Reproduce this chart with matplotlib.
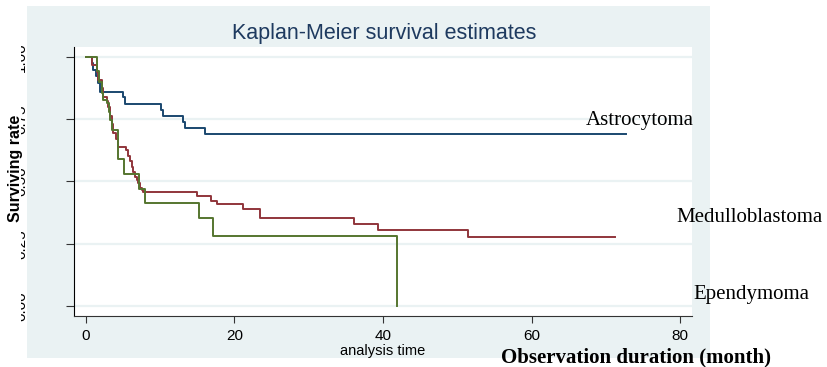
import matplotlib.pyplot as plt
import numpy as np
from matplotlib.patches import Rectangle
from matplotlib.transforms import Bbox, blended_transform_factory

# Kaplan-Meier step data (time in months, survival)
astro_t = [0, 0.77, 1.01, 1.35, 1.66, 1.95, 5.02, 5.24, 10.09, 10.32, 13.1, 13.32, 16.0, 72.7]
astro_s = [1, 0.976, 0.948, 0.924, 0.896, 0.858, 0.841, 0.811, 0.787, 0.763, 0.740, 0.716, 0.690, 0.690]

medullo_t = [0, 0.81, 1.44, 1.66, 2.11, 2.33, 2.79, 3.0, 3.23, 3.46, 3.67, 4.04, 4.31, 5.38, 5.69,
             5.92, 6.15, 6.37, 6.59, 6.82, 7.04, 7.27, 7.54, 7.71, 14.9, 16.9, 17.7, 21.2, 23.4,
             36.1, 39.3, 51.5, 71.2]
medullo_s = [1, 0.968, 0.940, 0.908, 0.874, 0.841, 0.823, 0.799, 0.763, 0.731, 0.695, 0.671, 0.640,
             0.627, 0.602, 0.582, 0.558, 0.538, 0.519, 0.506, 0.494, 0.474, 0.466, 0.459, 0.443,
             0.423, 0.408, 0.391, 0.354, 0.331, 0.304, 0.277, 0.277]

epend_t = [0, 1.44, 1.80, 2.15, 2.33, 2.78, 3.05, 3.31, 3.58, 4.3, 5.1, 7.15, 7.94, 15.25, 17.1, 41.95]
epend_s = [1, 0.945, 0.901, 0.854, 0.827, 0.814, 0.780, 0.747, 0.707, 0.589, 0.530, 0.469, 0.412,
           0.352, 0.282, 0.0]

grupos = ['Astrocytoma', 'Medulloblastoma', 'Ependymoma']
colores = ['#1a476f', '#90353b', '#55752f']
xticks = [0, 20, 40, 60, 80]
yticks = [0.0, 0.25, 0.5, 0.75, 1.0]
ytick_labels = ['0.00', '0.25', '0.50', '0.75', '1.00']

W, H = 828, 367
fig = plt.figure(figsize=(W / 100, H / 100), dpi=100)

# fondo azul claro estilo stata
fig.add_artist(Rectangle((27 / W, 1 - 358 / H), (710 - 27) / W, (358 - 6) / H,
                         transform=fig.transFigure, facecolor='#eaf2f3', edgecolor='none', zorder=0))

ax = fig.add_axes([74 / W, 1 - 316 / H, (692 - 74) / W, (316 - 47) / H])
ax.set_facecolor('white')

for t, s, c in zip([astro_t, medullo_t, epend_t], [astro_s, medullo_s, epend_s], colores):
    ax.step(t, s, where='post', color=c, lw=1.4, zorder=3)

ax.set_xlim(-1.6, 81.6)
ax.set_ylim(-0.04, 1.04)
ax.set_xticks(xticks)
ax.set_yticks(yticks)
ax.yaxis.grid(True, color='#eaf2f3', lw=1.6)
ax.set_axisbelow(True)
for side in ['top', 'right']:
    ax.spines[side].set_visible(False)
ax.spines['left'].set_color('black')
ax.spines['bottom'].set_color('#333333')
ax.tick_params(axis='y', length=6, labelleft=False, color='#333333')
ax.tick_params(axis='x', length=5, labelsize=11, color='#333333', pad=4)
ax.set_xticklabels([str(x) for x in xticks], family='Liberation Sans')
ax.set_xlabel('analysis time', fontsize=10.5, family='Liberation Sans', labelpad=1)

# etiquetas del eje y giradas, con la parte izquierda recortada como en el original
trans = blended_transform_factory(fig.transFigure, ax.transData)
clip = Rectangle((21, 0), 20, H, transform=None)
for v, lab in zip(yticks, ytick_labels):
    txt = fig.text(21 / W, v, lab, transform=trans, rotation=90, ha='center', va='center',
                   fontsize=11, family='Liberation Sans')
    txt.set_clip_on(True)
    txt.set_clip_path(clip)
    txt.set_clip_box(Bbox([[21, 0], [41, H]]))

fig.text(384 / W, 1 - 33 / H, 'Kaplan-Meier survival estimates', ha='center', va='center',
         fontsize=15.5, color='#1e3a5f', family='Liberation Sans')
fig.text(16 / W, 1 - 168 / H, 'Surviving rate', rotation=90, ha='center', va='center',
         fontsize=11.5, fontweight='bold', family='Liberation Sans')

# nombres de los grupos
fig.text(586 / W, 1 - 121 / H, grupos[0], ha='left', va='center', fontsize=15, family='Liberation Serif')
fig.text(676 / W, 1 - 218 / H, grupos[1], ha='left', va='center', fontsize=15, family='Liberation Serif')
fig.text(693 / W, 1 - 295 / H, grupos[2], ha='left', va='center', fontsize=15, family='Liberation Serif')
fig.text(636 / W, 1 - 357 / H, 'Observation duration (month)', ha='center', va='center',
         fontsize=15, fontweight='bold', family='Liberation Serif')

plt.savefig('out.png', dpi=100)
